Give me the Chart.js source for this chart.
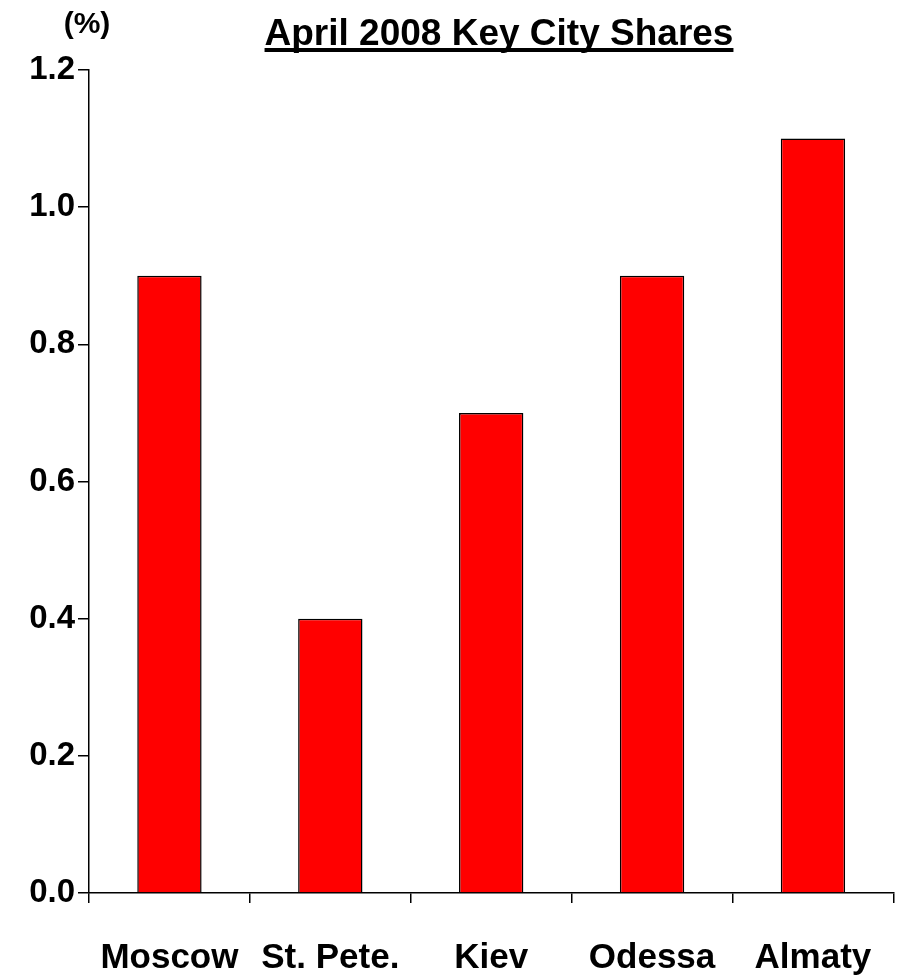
<!DOCTYPE html>
<html>
<head>
<meta charset="utf-8">
<script src="https://cdn.jsdelivr.net/npm/chart.js@4/dist/chart.umd.min.js"></script>
<style>
  html, body { margin: 0; padding: 0; background: #fff; }
  #wrap { width: 906px; height: 977px; }
</style>
</head>
<body>
<div id="wrap"><canvas id="myChart" width="906" height="977"></canvas></div>
<script>
// data
var cities = ["Moscow", "St. Pete.", "Kiev", "Odessa", "Almaty"];
var shares = [0.9, 0.4, 0.7, 0.9, 1.1];
var yTicks = [0.0, 0.2, 0.4, 0.6, 0.8, 1.0, 1.2];

var chartTitle = "April 2008 Key City Shares";
var unitLabel = "(%)";
var fontName = "'Liberation Sans', Arial, sans-serif";

// title with underline + the (%) unit above the y axis
var headerPlugin = {
    id: 'header',
    afterDraw: function(chart) {
        var c = chart.ctx;
        c.save();
        c.fillStyle = '#000';
        c.font = "bold 37px " + fontName;
        c.textAlign = 'center';
        c.textBaseline = 'alphabetic';
        var cx = 499;
        c.fillText(chartTitle, cx, 45);
        var w = c.measureText(chartTitle).width;
        c.fillRect(cx - w / 2, 48, w, 4);

        c.font = "bold 30px " + fontName;
        c.fillText(unitLabel, 87, 33);
        c.restore();
    }
};

var ctx = document.getElementById("myChart").getContext('2d');
var barChart = new Chart(ctx, {
    type: 'bar',
    data: {
        labels: cities,
        datasets: [{
            label: "Share",
            data: shares,
            backgroundColor: '#ff0000',
            borderColor: '#000000',
            borderWidth: 1.5,
            barPercentage: 0.4,
            categoryPercentage: 1.0
        }]
    },
    options: {
        responsive: false,
        animation: false,
        layout: { padding: { top: 70, right: 7, bottom: 0, left: 0 } },
        plugins: {
            legend: { display: false },
            title: { display: false },
            tooltip: { enabled: false }
        },
        scales: {
            x: {
                afterFit: function(scale) { scale.height = 84; },
                grid: { display: true, drawOnChartArea: false, offset: true, tickLength: 10, color: '#000', lineWidth: 1.5 },
                border: { color: '#000', width: 1.5 },
                ticks: {
                    color: '#000',
                    padding: 34,
                    maxRotation: 0,
                    font: { family: fontName, size: 35, weight: 'bold' }
                }
            },
            y: {
                min: 0,
                max: 1.2,
                afterFit: function(scale) { scale.width = 89; },
                afterBuildTicks: function(scale) {
                    scale.ticks = yTicks.map(function(v) { return { value: v }; });
                },
                grid: { display: true, drawOnChartArea: false, tickLength: 11, color: '#000', lineWidth: 1.5 },
                border: { color: '#000', width: 1.5 },
                ticks: {
                    color: '#000',
                    padding: 3,
                    font: { family: fontName, size: 33, weight: 'bold' },
                    callback: function(v) { return Number(v).toFixed(1); }
                }
            }
        }
    },
    plugins: [headerPlugin]
});
</script>
</body>
</html>
